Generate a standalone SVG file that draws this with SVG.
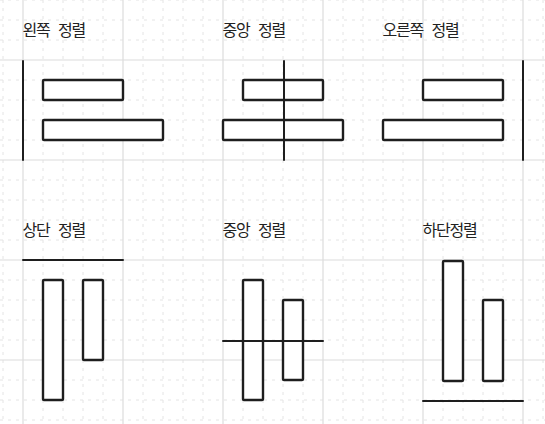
<svg xmlns="http://www.w3.org/2000/svg" width="545" height="424" viewBox="0 0 545 424">
<style>
.minor{stroke:#e4e4e4;stroke-width:1;stroke-dasharray:3 5}
.major{stroke:#dcdcdc;stroke-width:1.2}
.box{fill:#fff;stroke:#1e1e1e;stroke-width:2.4;stroke-linejoin:round}
.guide{stroke:#1e1e1e;stroke-width:2;stroke-linecap:round;fill:none}
.lbl{font-family:"Noto Sans CJK KR","Noto Sans",sans-serif;font-size:16px;letter-spacing:-1.2px;word-spacing:6px;fill:#222}
</style>
<rect width="545" height="424" fill="#fff"/>
<g id="grid">
<g class="minor">
<path d="M3 0V424M43 0V424M63 0V424M83 0V424M103 0V424M143 0V424M163 0V424M183 0V424M203 0V424M243 0V424M263 0V424M283 0V424M303 0V424M343 0V424M363 0V424M383 0V424M403 0V424M443 0V424M463 0V424M483 0V424M503 0V424M543 0V424"/>
<path d="M0 0H545M0 20H545M0 40H545M0 80H545M0 100H545M0 120H545M0 140H545M0 180H545M0 200H545M0 220H545M0 240H545M0 280H545M0 300H545M0 320H545M0 340H545M0 380H545M0 400H545M0 420H545"/>
</g>
<g class="major">
<path d="M23 0V424M123 0V424M223 0V424M323 0V424M423 0V424M523 0V424"/>
<path d="M0 60H545M0 160H545M0 260H545M0 360H545"/>
</g>
</g>
<g id="left-align">
<text class="lbl" x="22.5" y="36">왼쪽 정렬</text>
<path class="guide" d="M23 61V160"/>
<rect class="box" x="43" y="80" width="80" height="20" rx="1"/>
<rect class="box" x="43" y="120" width="120" height="20" rx="1"/>
</g>
<g id="center-align-h">
<text class="lbl" x="222.5" y="36">중앙 정렬</text>
<rect class="box" x="243" y="80" width="80" height="20" rx="1"/>
<rect class="box" x="223" y="120" width="120" height="20" rx="1"/>
<path class="guide" d="M284 61V160"/>
</g>
<g id="right-align">
<text class="lbl" x="382.5" y="36">오른쪽 정렬</text>
<rect class="box" x="423" y="80" width="80" height="20" rx="1"/>
<rect class="box" x="383" y="120" width="120" height="20" rx="1"/>
<path class="guide" d="M523 61V160"/>
</g>
<g id="top-align">
<text class="lbl" x="22.5" y="236">상단 정렬</text>
<path class="guide" d="M23 260H123"/>
<rect class="box" x="43" y="280" width="20" height="120" rx="1"/>
<rect class="box" x="83" y="280" width="20" height="80" rx="1"/>
</g>
<g id="center-align-v">
<text class="lbl" x="222.5" y="236">중앙 정렬</text>
<rect class="box" x="243" y="280" width="20" height="120" rx="1"/>
<rect class="box" x="283" y="300" width="20" height="80" rx="1"/>
<path class="guide" d="M223 341H323"/>
</g>
<g id="bottom-align">
<text class="lbl" x="422.5" y="236">하단정렬</text>
<rect class="box" x="443" y="261" width="20" height="120" rx="1"/>
<rect class="box" x="483" y="300" width="20" height="81" rx="1"/>
<path class="guide" d="M423 401H523"/>
</g>
</svg>
